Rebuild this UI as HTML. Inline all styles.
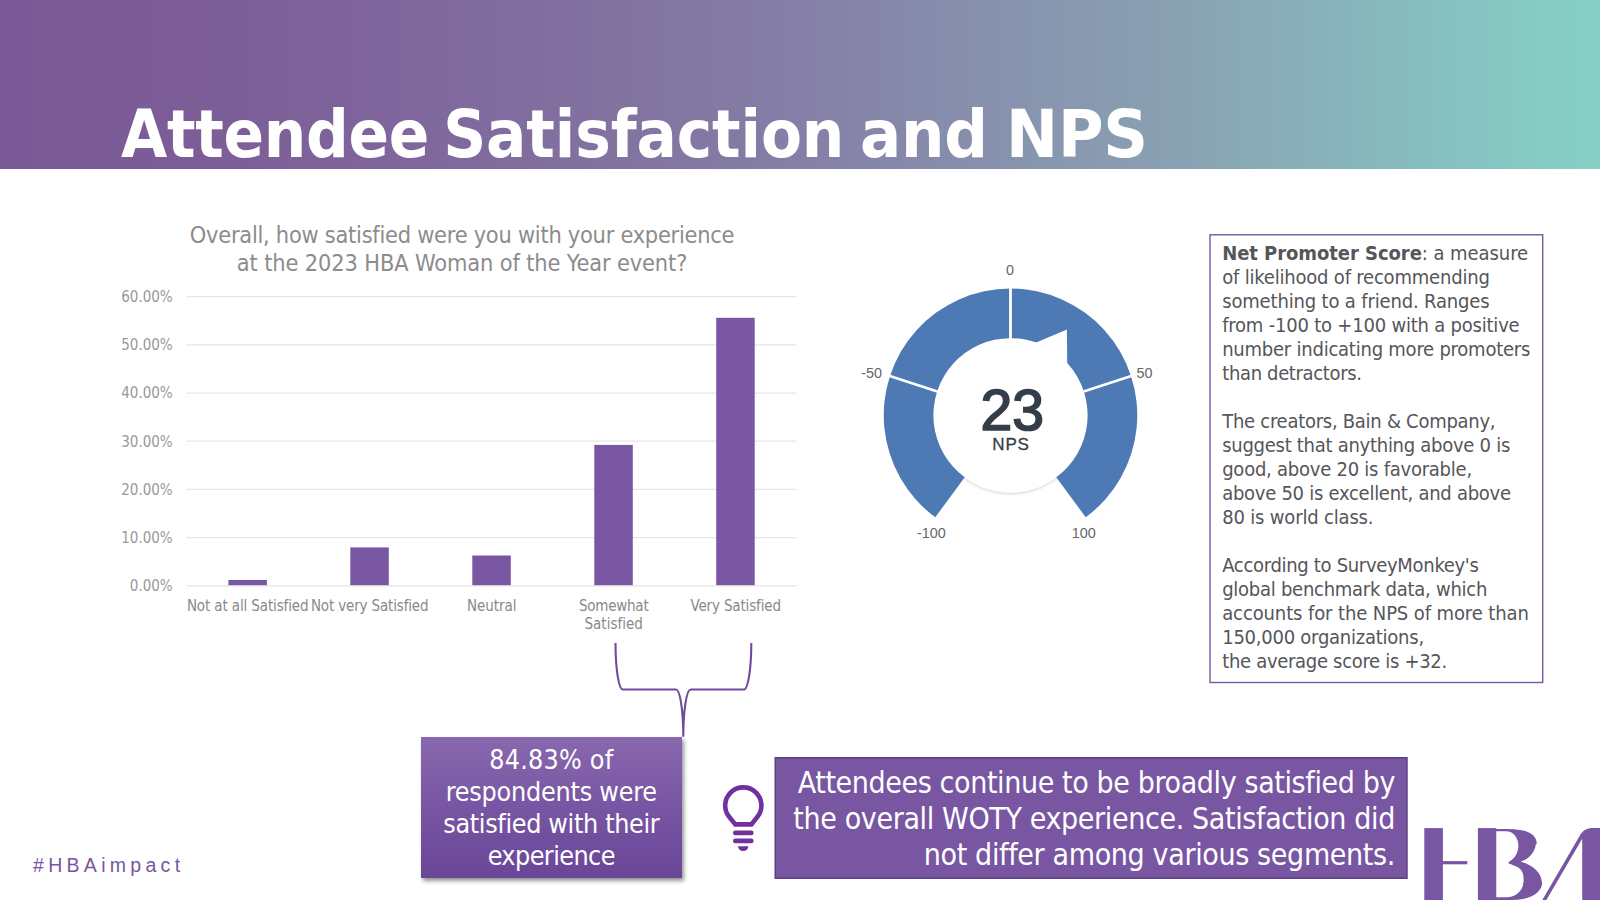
<!DOCTYPE html>
<html lang="en">
<head>
<meta charset="utf-8">
<title>Attendee Satisfaction and NPS</title>
<style>
html,body{margin:0;padding:0;background:#fff;}
body{width:1600px;height:900px;overflow:hidden;position:relative;
  font-family:"DejaVu Sans Condensed","DejaVu Sans","Liberation Sans",sans-serif;font-stretch:condensed;}
.abs{position:absolute;white-space:nowrap;}
#hdr{left:0;top:0;width:1600px;height:169px;
  background:linear-gradient(90deg,#7a5a96 0.00%,#7c5d97 12.50%,#7f669c 25.00%,#816f9f 34.38%,#8378a3 43.75%,#857fa7 50.00%,#8792ae 62.50%,#899fb1 71.88%,#88afb9 81.25%,#86c1c0 90.62%,#86d1c6 100.00%);}
#title{left:0;top:94.2px;width:1600px;height:80px;line-height:80px;font-size:66.4px;font-weight:bold;color:#fff;}
.tw{position:absolute;top:0;transform-origin:0 50%;}
.ct{left:162px;width:600px;text-align:center;font-size:23.33px;line-height:27.6px;height:27.6px;color:#8c8c8c;}
.yl{left:60px;width:112.7px;text-align:right;font-size:15px;line-height:18px;height:18px;color:#999;}
.cl{width:160px;text-align:center;font-size:15px;line-height:18.3px;color:#898989;white-space:normal;}
#infot{left:1222.2px;top:241.1px;font-size:20px;line-height:24px;color:#55565a;}
#pbox{left:420.5px;top:737.2px;width:261.5px;height:140.4px;
  background:linear-gradient(180deg,#8868ae 0%,#7a57a4 45%,#6a4698 100%);box-shadow:1.5px 3px 4px rgba(0,0,0,.42);}
#pboxt{left:420.5px;top:744.1px;width:261.6px;text-align:center;color:#fff;font-size:26.67px;line-height:32px;}
#rboxt{left:780px;top:764.9px;width:615px;text-align:right;color:#fff;font-size:30px;line-height:35.9px;}
#hash{left:33px;top:852.5px;font-family:"Liberation Sans",sans-serif;font-stretch:normal;font-size:19.5px;line-height:24px;color:#7856a2;letter-spacing:4.3px;}
svg{position:absolute;left:0;top:0;}
.gl{font-family:"Liberation Sans",sans-serif;font-size:14.4px;fill:#666;}
</style>
</head>
<body>
<div id="hdr" class="abs"></div>
<div id="pbox" class="abs"></div>
<svg width="1600" height="900" viewBox="0 0 1600 900">
  <defs>
    <filter id="ish" x="-20%" y="-20%" width="140%" height="140%">
      <feGaussianBlur in="SourceAlpha" stdDeviation="1.5"/>
      <feOffset dx="0" dy="1"/>
      <feComponentTransfer><feFuncA type="linear" slope=".2"/></feComponentTransfer>
      <feMerge><feMergeNode/><feMergeNode in="SourceGraphic"/></feMerge>
    </filter>
    <clipPath id="bclip"><rect x="1478" y="820" width="80" height="80"/></clipPath>
  </defs>
  <!-- chart -->
  <g stroke="#e5e5e5" stroke-width="1.25">
    <path d="M186.7 296.6H796.5M186.7 344.8H796.5M186.7 393H796.5M186.7 441.2H796.5M186.7 489.4H796.5M186.7 537.6H796.5M186.7 585.8H796.5"/>
  </g>
  <g fill="#7856a2">
    <rect x="228.4" y="580" width="38.5" height="5.2"/>
    <rect x="350.3" y="547.4" width="38.5" height="37.8"/>
    <rect x="472.3" y="555.5" width="38.5" height="29.7"/>
    <rect x="594.3" y="444.9" width="38.5" height="140.3"/>
    <rect x="716.2" y="317.8" width="38.5" height="267.4"/>
  </g>
  <!-- boxes -->
  <rect x="1210" y="234.8" width="332.7" height="447.7" fill="#fff" stroke="#7856a2" stroke-width="1.4"/>
  <rect x="775.25" y="757.75" width="631.7" height="120.5" fill="#7856a2" stroke="#5b4084" stroke-width="1.5"/>
  <!-- brace -->
  <path d="M615.5 643 A7.3 46.5 0 0 0 622.8 689.5 L676 689.5 A7.3 47.3 0 0 1 683.3 736.8 A7.3 47.3 0 0 1 690.6 689.5 L744 689.5 A7.3 46.5 0 0 0 751.3 643" fill="none" stroke="#6f4ba0" stroke-width="2.1"/>
  <!-- gauge -->
  <circle cx="1010.5" cy="415.25" r="77.4" fill="#fff" filter="url(#ish)"/>
  <path d="M 935.28 517.27 A 126.75 126.75 0 1 1 1085.72 517.27 L 1056.25 477.31 A 77.10 77.10 0 1 0 964.75 477.31 Z" fill="#4d7ab5"/>
  <g stroke="#fff" stroke-width="2.8">
    <line x1="938.12" y1="391.73" x2="889.00" y2="375.77"/>
    <line x1="1010.50" y1="339.15" x2="1010.50" y2="287.50"/>
    <line x1="1082.88" y1="391.73" x2="1132.00" y2="375.77"/>
  </g>
  <path d="M 1034.6 341.5 L 1035.6 342.8 L 1066.9 329.4 L 1067.2 363.1 L 1064 366 Z" fill="#fff"/>
  <g class="gl" text-anchor="middle">
    <text x="1010" y="274.8">0</text>
    <text x="1144.4" y="377.5">50</text>
    <text x="871.7" y="377.5">-50</text>
    <text x="931.3" y="537.8">-100</text>
    <text x="1083.8" y="537.8">100</text>
  </g>
  <text x="1012.2" y="429.6" text-anchor="middle" font-family="Liberation Sans, sans-serif" font-size="57.2" fill="#333e48" stroke="#333e48" stroke-width="1.7">23</text>
  <text x="1011" y="450" text-anchor="middle" font-family="Liberation Sans, sans-serif" font-size="17" letter-spacing=".8" fill="#333e48" stroke="#333e48" stroke-width=".3">NPS</text>
  <!-- bulb -->
  <g fill="none" stroke="#7030a0" stroke-width="4.6">
    <path d="M 735.20 824.40 L 729.13 816.76 A 18.10 18.10 0 1 1 757.47 816.76 L 751.40 824.40 Z" stroke-linejoin="miter"/>
    <path d="M735.4 832.9 H751.2 M735.4 840.9 H751.2" stroke-linecap="round" stroke-width="4.9"/>
  </g>
  <path d="M738 846.3 H748.4 A5.2 4.8 0 0 1 738 846.3 Z" fill="#7030a0"/>
  <!-- HBA logo -->
  <g fill="#7856a2">
    <title>HBA</title>
    <rect x="1424.3" y="828.1" width="18.6" height="72"/>
    <rect x="1442" y="861.1" width="25.3" height="3.2"/>
    <rect x="1477.9" y="828.1" width="18.4" height="72"/>
    <path d="M1542.3 900 L1579.6 836 C1583 830 1587 828.1 1593 828.1 L1600 828.1 L1600 900 L1582.2 900 L1582.2 838.8 L1546.4 900 Z"/>
    <g clip-path="url(#bclip)">
      <text transform="translate(1466.3 899.5) scale(1.1 1)" font-family="Liberation Serif, serif" font-weight="bold" font-size="109">B</text>
    </g>
    <path fill="#fff" d="M1496.3 831.2 L1507 831.2 C1513.5 831.6 1518.4 838 1518.4 845.8 C1518.4 853 1514.2 859.3 1508.7 862.1 L1508.7 863.5 C1516.5 866 1523.3 872.3 1523.3 880.5 C1523.3 889.8 1517 896.6 1507.5 897.3 L1496.3 897.3 Z"/>
    <path fill="#fff" d="M1520.7 861.4 C1527.5 860 1535 853 1535.9 844 L1546 844 L1546 888 L1542.7 888 C1542.6 885 1542.2 882.5 1541.6 880.4 C1540.5 872.5 1533 865.3 1520.7 861.4 Z"/>
  </g>
</svg>
<div id="title" class="abs"><span class="tw" style="left:121.00px;letter-spacing:-0.260px">Attendee</span> <span class="tw" style="left:443.20px;letter-spacing:-0.087px">Satisfaction</span> <span class="tw" style="left:860.40px;letter-spacing:-0.200px;transform:scaleX(1.0222)">and</span> <span class="tw" style="left:1006.20px;letter-spacing:-0.200px;transform:scaleX(1.0421)">NPS</span></div>

<div class="abs ct" style="top:222.2px"><span style="letter-spacing:-0.253px">Overall, how satisfied were you with your experience</span></div>
<div class="abs ct" style="top:249.8px"><span style="letter-spacing:-0.125px">at the 2023 HBA Woman of the Year event?</span></div>


<div class="abs yl" style="top:288.1px">60.00%</div>
<div class="abs yl" style="top:336.2px">50.00%</div>
<div class="abs yl" style="top:384.4px">40.00%</div>
<div class="abs yl" style="top:432.5px">30.00%</div>
<div class="abs yl" style="top:480.6px">20.00%</div>
<div class="abs yl" style="top:528.8px">10.00%</div>
<div class="abs yl" style="top:576.9px">0.00%</div>


<div class="abs cl" style="left:167.7px;top:596.8px"><span style="letter-spacing:-0.125px">Not at all Satisfied</span></div>
<div class="abs cl" style="left:289.7px;top:596.8px"><span style="letter-spacing:-0.155px">Not very Satisfied</span></div>
<div class="abs cl" style="left:411.7px;top:596.8px"><span style="letter-spacing:-0.050px">Neutral</span></div>
<div class="abs cl" style="left:533.7px;top:596.8px"><span style="letter-spacing:-0.229px">Somewhat</span><br><span style="letter-spacing:0.012px">Satisfied</span></div>
<div class="abs cl" style="left:655.7px;top:596.8px"><span style="letter-spacing:-0.154px">Very Satisfied</span></div>

<div id="infot" class="abs"><span style="letter-spacing:-0.061px"><b>Net Promoter Score</b>: a measure</span><br><span style="letter-spacing:-0.196px">of likelihood of recommending</span><br><span style="letter-spacing:-0.161px">something to a friend. Ranges</span><br><span style="letter-spacing:-0.209px">from -100 to +100 with a positive</span><br><span style="letter-spacing:-0.232px">number indicating more promoters</span><br><span style="letter-spacing:-0.347px">than detractors.</span><br><br><span style="letter-spacing:-0.271px">The creators, Bain &amp; Company,</span><br><span style="letter-spacing:-0.274px">suggest that anything above 0 is</span><br><span style="letter-spacing:-0.244px">good, above 20 is favorable,</span><br><span style="letter-spacing:-0.271px">above 50 is excellent, and above</span><br><span style="letter-spacing:-0.176px">80 is world class.</span><br><br><span style="letter-spacing:-0.312px">According to SurveyMonkey's</span><br><span style="letter-spacing:-0.263px">global benchmark data, which</span><br><span style="letter-spacing:-0.109px">accounts for the NPS of more than</span><br><span style="letter-spacing:-0.243px">150,000 organizations,</span><br><span style="letter-spacing:-0.308px">the average score is +32.</span><br></div>

<div id="pboxt" class="abs"><span style="letter-spacing:0.228px">84.83% of</span><br><span style="letter-spacing:-0.233px">respondents were</span><br><span style="letter-spacing:-0.335px">satisfied with their</span><br><span style="letter-spacing:-0.560px">experience</span><br></div>

<div id="rboxt" class="abs"><span style="letter-spacing:-0.385px">Attendees continue to be broadly satisfied by</span><br><span style="letter-spacing:-0.362px">the overall WOTY experience. Satisfaction did</span><br><span style="letter-spacing:-0.352px">not differ among various segments.</span><br></div>

<div id="hash" class="abs">#HBAimpact</div>

</body>
</html>
